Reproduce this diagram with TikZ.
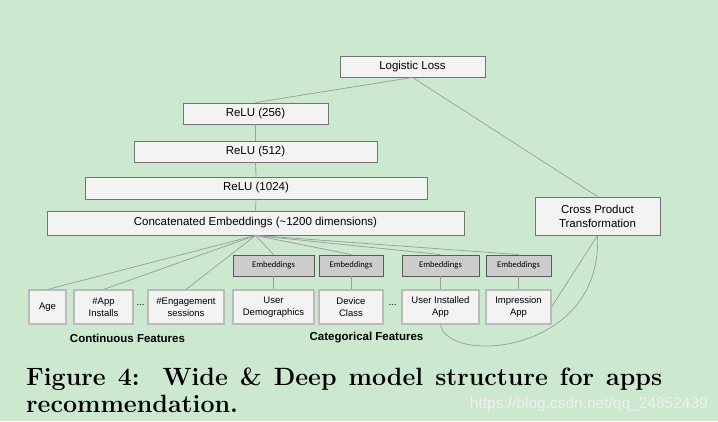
\documentclass[tikz,border=0pt]{standalone}
\usepackage{fontspec}
\setsansfont{Liberation Sans}
\newfontfamily\embfont{Carlito}
\usetikzlibrary{positioning}

\definecolor{bggreen}{RGB}{204,232,207}
\definecolor{boxfill}{RGB}{243,243,243}
\definecolor{linegray}{RGB}{155,155,155}
\definecolor{embfill}{RGB}{204,204,204}

\tikzset{
	layer/.style={draw=black!55,fill=boxfill,line width=0.9pt,inner sep=0pt,align=center,font=\sffamily\fontsize{11.5}{14}\selectfont},
	feat/.style={draw=black!27,fill=boxfill,line width=1.1pt,inner sep=0pt,minimum height=34pt,align=center,font=\sffamily\fontsize{9.5}{11.7}\selectfont},
	embbox/.style={draw=black!65,fill=embfill,line width=0.9pt,inner sep=0pt,minimum height=21pt,font=\embfont\fontsize{8.6}{9}\selectfont},
	conn/.style={draw=linegray,line width=0.7pt},
}

\begin{document}
\begin{tikzpicture}[scale=1]
	
	\useasboundingbox (0pt,0pt) rectangle (718pt,-421pt);
	\fill[bggreen] (0pt,0pt) rectangle (718pt,-421pt);
	
	% deep part
	\node[layer,minimum width=145pt,minimum height=21pt] (loss) at (412.5pt,-66.5pt){Logistic Loss};
	\node[layer,minimum width=145pt,minimum height=21pt] (r256) at (255.5pt,-113.5pt){ReLU (256)};
	\node[layer,minimum width=243pt,minimum height=21pt] (r512) at (255.5pt,-151.5pt){ReLU (512)};
	\node[layer,minimum width=342pt,minimum height=22pt] (r1024) at (256pt,-188pt){ReLU (1024)};
	\node[layer,minimum width=417pt,minimum height=24pt] (concat) at (255.5pt,-223pt){Concatenated Embeddings (\textasciitilde1200 dimensions)};
	\node[layer,minimum width=125pt,minimum height=38pt] (cross) at (597.5pt,-216pt){Cross Product\\Transformation};
	
	\node[embbox,minimum width=81pt] (e1) at (273.5pt,-265.5pt){Embeddings};
	\node[embbox,minimum width=64pt] (e2) at (351pt,-265.5pt){Embeddings};
	\node[embbox,minimum width=77pt] (e3) at (440.5pt,-265.5pt){Embeddings};
	\node[embbox,minimum width=65pt] (e4) at (518.5pt,-265.5pt){Embeddings};
	
	% input features
	\node[feat,minimum width=37pt] (age) at (47.5pt,-307pt){Age};
	\node[feat,minimum width=59pt] (app) at (103.5pt,-307pt){\#App\\Installs};
	\node[feat,minimum width=76pt] (eng) at (186pt,-307pt){\#Engagement\\sessions};
	\node[feat,minimum width=81pt] (user) at (273.5pt,-307pt){User\\Demographics};
	\node[feat,minimum width=64pt] (dev) at (351pt,-307pt){Device\\Class};
	\node[feat,minimum width=77pt] (inst) at (440.5pt,-307pt){User Installed\\App};
	\node[feat,minimum width=65pt] (imp) at (518.5pt,-307pt){Impression\\App};
	\node[font=\sffamily\fontsize{9.5}{11}\selectfont] (dots1) at (140.5pt,-305pt){...};
	\node[font=\sffamily\fontsize{9.5}{11}\selectfont] (dots2) at (392.5pt,-305pt){...};
	
	\node[font=\sffamily\bfseries\fontsize{11.5}{14}\selectfont] (cont) at (127.5pt,-338pt){Continuous Features};
	\node[font=\sffamily\bfseries\fontsize{11.5}{14}\selectfont] (categ) at (366.5pt,-338pt){Categorical Features};
	
	\draw[conn] (loss.south)--(r256.north);
	\draw[conn] (loss.south)--(cross.north);
	\draw[conn] (r256.south)--(r512.north);
	\draw[conn] (r512.south)--(r1024.north);
	\draw[conn] (r1024.south)--(concat.north);
	
	\draw[conn] (concat.south)--(age.north);
	\draw[conn] (concat.south)--(app.north);
	\draw[conn] (concat.south)--(eng.north);
	\draw[conn] (concat.south)--(e1.north);
	\draw[conn] (concat.south)--(e2.north);
	\draw[conn] (concat.south)--(e3.north);
	\draw[conn] (concat.south)--(e4.north);
	
	\draw[conn] (e1.south)--(user.north);
	\draw[conn] (e2.south)--(dev.north);
	\draw[conn] (e3.south)--(inst.north);
	\draw[conn] (e4.south)--(imp.north);
	
	% wide part
	\draw[conn] (cross.south)--(imp.east);
	\draw[conn] (inst.south) .. controls (447pt,-365pt) and (603pt,-355pt) .. (cross.south);
	
	% caption
	\node[anchor=base west,inner sep=0pt,font=\bfseries\fontsize{25}{29}\selectfont] (cap1) at (26pt,-385pt){\makebox[636pt][s]{Figure 4:\hspace{5pt} Wide \& Deep model structure for apps}};
	\node[anchor=base west,inner sep=0pt,font=\bfseries\fontsize{25}{29}\selectfont] (cap2) at (26pt,-412pt){recommendation.};
	\node[anchor=base east,inner sep=0pt,text=white!88!gray,font=\sffamily\fontsize{15.5}{18}\selectfont] (wmark) at (708pt,-408pt){https://blog.csdn.net/qq\_24852439};
	
\end{tikzpicture}
\end{document}
